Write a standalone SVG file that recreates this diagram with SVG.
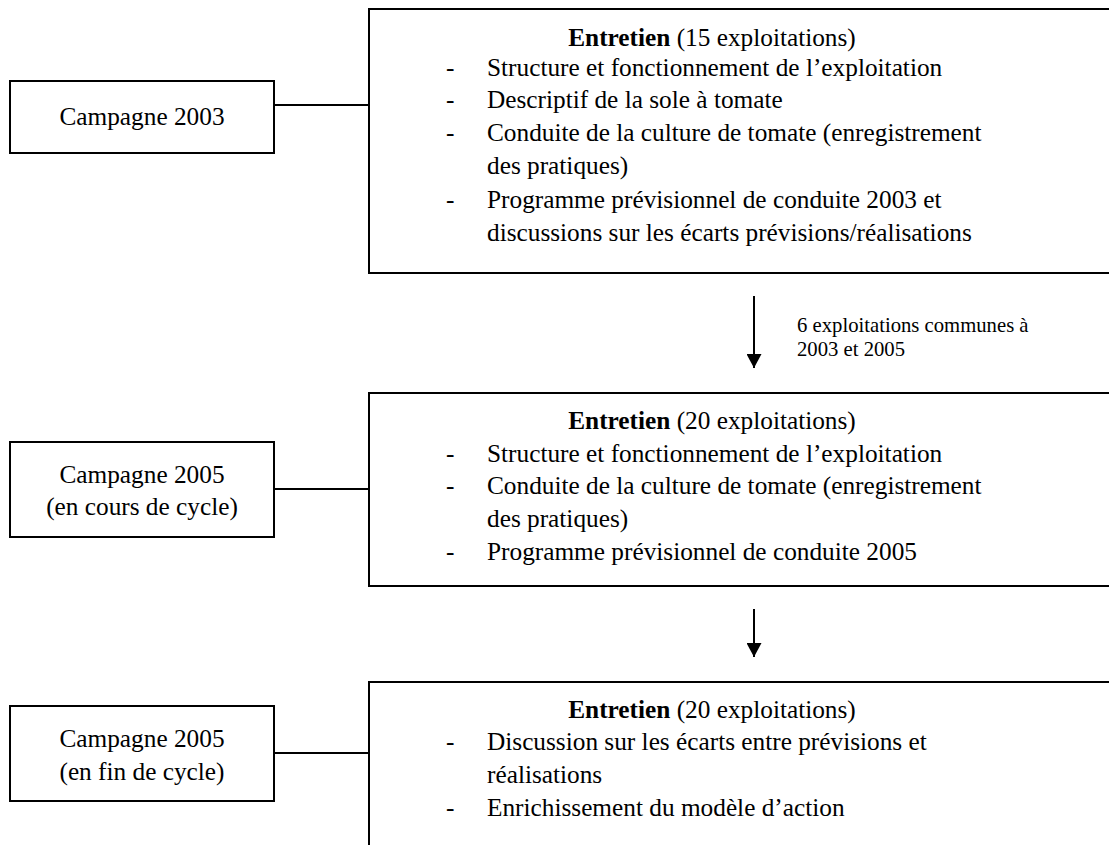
<svg xmlns="http://www.w3.org/2000/svg" width="1109" height="845" viewBox="0 0 1109 845">
<defs>
<style>
.box{fill:#fff;stroke:#000;stroke-width:2}
.t{font-family:"Liberation Serif","Times New Roman",serif;font-size:25.3px;fill:#000}
.c{text-anchor:middle}
.b{font-weight:bold}
.s{font-family:"Liberation Serif","Times New Roman",serif;font-size:20.7px;fill:#000}
.ln{stroke:#000;stroke-width:2;fill:none}
</style>
<marker id="ah" viewBox="0 0 14 15" refX="14" refY="7.5" markerWidth="14" markerHeight="15" markerUnits="userSpaceOnUse" orient="auto">
<path d="M0,0 L14,7.5 L0,15 Z" fill="#000"/>
</marker>
</defs>
<rect width="1109" height="845" fill="#fff"/>
<g id="connectors">
<line class="ln" x1="274" y1="105" x2="369" y2="105"/>
<line class="ln" x1="274" y1="489" x2="369" y2="489"/>
<line class="ln" x1="274" y1="753" x2="369" y2="753"/>
<line class="ln" x1="754" y1="296" x2="754" y2="368" marker-end="url(#ah)"/>
<line class="ln" x1="754" y1="609" x2="754" y2="657" marker-end="url(#ah)"/>
<text class="s" x="797" y="332">6 exploitations communes à</text>
<text class="s" x="797" y="356">2003 et 2005</text>
</g>
<g id="camp2003">
<rect class="box" x="10" y="81" width="264" height="72"/>
<text class="t c" x="142" y="125">Campagne 2003</text>
</g>
<g id="entretien1">
<rect class="box" x="369" y="9" width="760" height="264"/>
<text class="t c" x="712" y="46"><tspan class="b">Entretien</tspan> (15 exploitations)</text>
<text class="t" x="446" y="76">-</text><text class="t" x="487" y="76">Structure et fonctionnement de l’exploitation</text>
<text class="t" x="446" y="108">-</text><text class="t" x="487" y="108">Descriptif de la sole à tomate</text>
<text class="t" x="446" y="141">-</text><text class="t" x="487" y="141">Conduite de la culture de tomate (enregistrement</text>
<text class="t" x="487" y="174">des pratiques)</text>
<text class="t" x="446" y="208">-</text><text class="t" x="487" y="208">Programme prévisionnel de conduite 2003 et</text>
<text class="t" x="487" y="241">discussions sur les écarts prévisions/réalisations</text>
</g>
<g id="camp2005a">
<rect class="box" x="10" y="442" width="264" height="95"/>
<text class="t c" x="142" y="483">Campagne 2005</text>
<text class="t c" x="142" y="515">(en cours de cycle)</text>
</g>
<g id="entretien2">
<rect class="box" x="369" y="393" width="760" height="193"/>
<text class="t c" x="712" y="429"><tspan class="b">Entretien</tspan> (20 exploitations)</text>
<text class="t" x="446" y="462">-</text><text class="t" x="487" y="462">Structure et fonctionnement de l’exploitation</text>
<text class="t" x="446" y="494">-</text><text class="t" x="487" y="494">Conduite de la culture de tomate (enregistrement</text>
<text class="t" x="487" y="527">des pratiques)</text>
<text class="t" x="446" y="560">-</text><text class="t" x="487" y="560">Programme prévisionnel de conduite 2005</text>
</g>
<g id="camp2005b">
<rect class="box" x="10" y="706" width="264" height="95"/>
<text class="t c" x="142" y="747">Campagne 2005</text>
<text class="t c" x="142" y="780">(en fin de cycle)</text>
</g>
<g id="entretien3">
<rect class="box" x="369" y="682" width="760" height="200"/>
<text class="t c" x="712" y="718"><tspan class="b">Entretien</tspan> (20 exploitations)</text>
<text class="t" x="446" y="750">-</text><text class="t" x="487" y="750">Discussion sur les écarts entre prévisions et</text>
<text class="t" x="487" y="783">réalisations</text>
<text class="t" x="446" y="816">-</text><text class="t" x="487" y="816">Enrichissement du modèle d’action</text>
</g>
</svg>
